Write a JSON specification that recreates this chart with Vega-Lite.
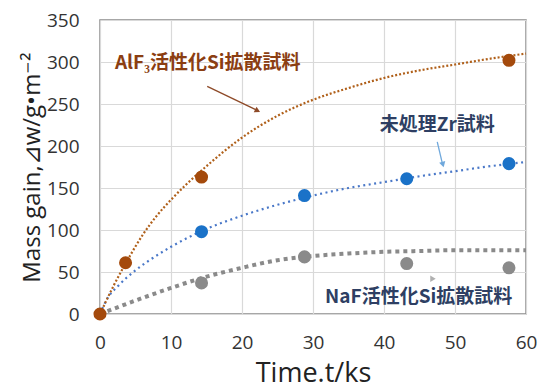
{
  "$schema": "https://vega.github.io/schema/vega-lite/v6.json",
  "width": 426,
  "height": 294,
  "autosize": {"type": "none"},
  "padding": {"left": 100, "top": 20, "right": 15, "bottom": 74},
  "background": "white",
  "config": {
    "view": {"stroke": "#8a8a8a", "strokeWidth": 1.5},
    "font": "Open Sans"
  },
  "datasets": {
    "points": [
      {"series": "AlF3", "t": 0, "v": 0},
      {"series": "AlF3", "t": 3.6, "v": 61},
      {"series": "AlF3", "t": 14.3, "v": 163},
      {"series": "AlF3", "t": 57.6, "v": 302},
      {"series": "Zr", "t": 14.3, "v": 98},
      {"series": "Zr", "t": 28.8, "v": 141},
      {"series": "Zr", "t": 43.2, "v": 161},
      {"series": "Zr", "t": 57.6, "v": 179},
      {"series": "NaF", "t": 14.3, "v": 37},
      {"series": "NaF", "t": 28.8, "v": 68},
      {"series": "NaF", "t": 43.2, "v": 60},
      {"series": "NaF", "t": 57.6, "v": 55}
    ],
    "trend": [
      {"series": "AlF3", "t": 0, "v": 0},
      {"series": "AlF3", "t": 2, "v": 35},
      {"series": "AlF3", "t": 4, "v": 66},
      {"series": "AlF3", "t": 6, "v": 94},
      {"series": "AlF3", "t": 8, "v": 117},
      {"series": "AlF3", "t": 10, "v": 136},
      {"series": "AlF3", "t": 12, "v": 153},
      {"series": "AlF3", "t": 15, "v": 176},
      {"series": "AlF3", "t": 20, "v": 210},
      {"series": "AlF3", "t": 25, "v": 236},
      {"series": "AlF3", "t": 30, "v": 255},
      {"series": "AlF3", "t": 35, "v": 269},
      {"series": "AlF3", "t": 40, "v": 281},
      {"series": "AlF3", "t": 45, "v": 290},
      {"series": "AlF3", "t": 50, "v": 297},
      {"series": "AlF3", "t": 55, "v": 304},
      {"series": "AlF3", "t": 60, "v": 310},
      {"series": "Zr", "t": 0, "v": 0},
      {"series": "Zr", "t": 1, "v": 18},
      {"series": "Zr", "t": 2.5, "v": 33},
      {"series": "Zr", "t": 5, "v": 52},
      {"series": "Zr", "t": 7.5, "v": 67},
      {"series": "Zr", "t": 10, "v": 80},
      {"series": "Zr", "t": 14.4, "v": 99},
      {"series": "Zr", "t": 20, "v": 117},
      {"series": "Zr", "t": 25, "v": 130},
      {"series": "Zr", "t": 30, "v": 141},
      {"series": "Zr", "t": 35, "v": 150},
      {"series": "Zr", "t": 40, "v": 157},
      {"series": "Zr", "t": 45, "v": 164},
      {"series": "Zr", "t": 50, "v": 170},
      {"series": "Zr", "t": 55, "v": 176},
      {"series": "Zr", "t": 60, "v": 181},
      {"series": "NaF", "t": 0, "v": 0},
      {"series": "NaF", "t": 5, "v": 16},
      {"series": "NaF", "t": 10, "v": 31},
      {"series": "NaF", "t": 14.4, "v": 43},
      {"series": "NaF", "t": 20, "v": 55},
      {"series": "NaF", "t": 25, "v": 64},
      {"series": "NaF", "t": 30, "v": 69},
      {"series": "NaF", "t": 35, "v": 72},
      {"series": "NaF", "t": 40, "v": 74},
      {"series": "NaF", "t": 45, "v": 75},
      {"series": "NaF", "t": 50, "v": 76},
      {"series": "NaF", "t": 55, "v": 76},
      {"series": "NaF", "t": 60, "v": 76}
    ],
    "labels": [
      {"series": "AlF3", "t": 2.1, "v": 299, "label": "AlF₃活性化Si拡散試料"},
      {"series": "Zr", "t": 39.4, "v": 225, "label": "未処理Zr試料"},
      {"series": "NaF", "t": 31.7, "v": 20, "label": "NaF活性化Si拡散試料"}
    ],
    "arrows": [
      {"series": "AlF3", "t": 15.1, "v": 271, "t2": 22.0, "v2": 243},
      {"series": "Zr", "t": 47.5, "v": 205, "t2": 48.2, "v2": 180}
    ],
    "heads": [
      {"series": "AlF3", "t": 22.2, "v": 242},
      {"series": "Zr", "t": 48.3, "v": 178},
      {"series": "NaF", "t": 46.9, "v": 42}
    ]
  },
  "encoding": {
    "x": {
      "field": "t", "type": "quantitative",
      "scale": {"domain": [0, 60], "nice": false},
      "axis": {
        "title": "Time.t/ks", "values": [0, 10, 20, 30, 40, 50, 60],
        "grid": true, "gridColor": "#d9d9d9", "gridWidth": 1.2,
        "domain": false, "ticks": false, "tickSize": 0,
        "labelFontSize": 19, "labelColor": "#333333", "labelPadding": 19,
        "labelFlush": false,
        "titleFontSize": 27, "titleFontWeight": "normal", "titleColor": "#222222",
        "titlePadding": 8
      }
    },
    "y": {
      "field": "v", "type": "quantitative",
      "scale": {"domain": [0, 350], "nice": false},
      "axis": {
        "title": "Mass gain,⊿w/g•m⁻²", "values": [0, 50, 100, 150, 200, 250, 300, 350],
        "grid": true, "gridColor": "#d9d9d9", "gridWidth": 1.2,
        "domain": false, "ticks": false, "tickSize": 0,
        "labelFontSize": 19, "labelColor": "#333333", "labelPadding": 21,
        "labelFlush": false,
        "titleFontSize": 24, "titleFontWeight": "normal", "titleColor": "#222222",
        "titlePadding": 2
      }
    }
  },
  "layer": [
    {
      "data": {"name": "trend"},
      "transform": [{"filter": "datum.series === 'NaF'"}],
      "mark": {"type": "line", "color": "#8a8a8a", "strokeWidth": 4, "strokeDash": [4, 4], "interpolate": "monotone"}
    },
    {
      "data": {"name": "trend"},
      "transform": [{"filter": "datum.series === 'Zr'"}],
      "mark": {"type": "line", "color": "#4a78c8", "strokeWidth": 2.2, "strokeDash": [2, 3.5], "interpolate": "monotone"}
    },
    {
      "data": {"name": "trend"},
      "transform": [{"filter": "datum.series === 'AlF3'"}],
      "mark": {"type": "line", "color": "#b0601a", "strokeWidth": 2.2, "strokeDash": [2, 2], "interpolate": "monotone"}
    },
    {
      "data": {"name": "points"},
      "mark": {"type": "point", "filled": true, "opacity": 1, "size": 170},
      "encoding": {
        "color": {
          "field": "series", "type": "nominal", "legend": null,
          "scale": {"domain": ["AlF3", "Zr", "NaF"], "range": ["#a44a0c", "#1a72c8", "#8a8a8a"]}
        }
      }
    },
    {
      "data": {"name": "arrows"},
      "transform": [{"filter": "datum.series === 'AlF3'"}],
      "mark": {"type": "rule", "strokeWidth": 1.3, "color": "#8e4a28"},
      "encoding": {"x2": {"field": "t2"}, "y2": {"field": "v2"}}
    },
    {
      "data": {"name": "arrows"},
      "transform": [{"filter": "datum.series === 'Zr'"}],
      "mark": {"type": "rule", "strokeWidth": 1.3, "color": "#6fa8dc"},
      "encoding": {"x2": {"field": "t2"}, "y2": {"field": "v2"}}
    },
    {
      "data": {"name": "heads"},
      "transform": [{"filter": "datum.series === 'AlF3'"}],
      "mark": {"type": "point", "shape": "triangle-up", "filled": true, "opacity": 1, "size": 40, "angle": 116, "color": "#8e4a28"}
    },
    {
      "data": {"name": "heads"},
      "transform": [{"filter": "datum.series === 'Zr'"}],
      "mark": {"type": "point", "shape": "triangle-up", "filled": true, "opacity": 1, "size": 40, "angle": 165, "color": "#6fa8dc"}
    },
    {
      "data": {"name": "heads"},
      "transform": [{"filter": "datum.series === 'NaF'"}],
      "mark": {"type": "point", "shape": "triangle-up", "filled": true, "opacity": 1, "size": 40, "angle": 90, "color": "#b0b0b0"}
    },
    {
      "data": {"name": "labels"},
      "transform": [{"filter": "datum.series === 'AlF3'"}],
      "mark": {"type": "text", "align": "left", "baseline": "middle", "fontSize": 19, "fontWeight": "bold", "font": "Noto Sans CJK JP", "color": "#8b3e12"},
      "encoding": {"text": {"field": "label"}}
    },
    {
      "data": {"name": "labels"},
      "transform": [{"filter": "datum.series !== 'AlF3'"}],
      "mark": {"type": "text", "align": "left", "baseline": "middle", "fontSize": 19, "fontWeight": "bold", "font": "Noto Sans CJK JP", "color": "#2e3f63"},
      "encoding": {"text": {"field": "label"}}
    }
  ]
}
